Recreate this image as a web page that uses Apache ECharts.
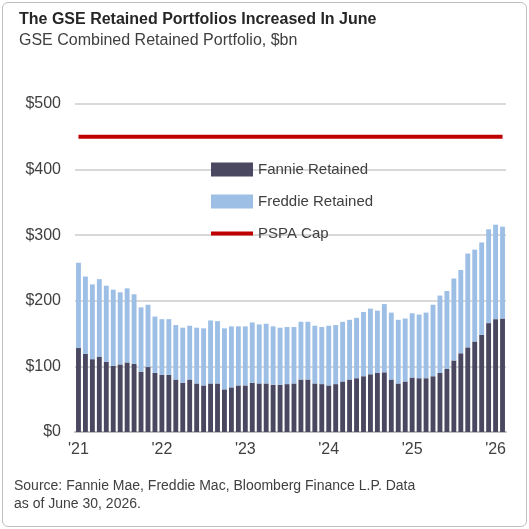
<!DOCTYPE html>
<html>
<head>
<meta charset="utf-8">
<script src="https://cdn.jsdelivr.net/npm/echarts@6/dist/echarts.min.js"></script>
<style>
html,body{margin:0;padding:0;background:#fff;}
#wrap{position:absolute;left:2px;top:2px;width:523px;height:523px;border:1px solid #bfbfbf;border-radius:6px;}
#chart{width:523px;height:523px;}
</style>
</head>
<body>
<div id="wrap"><div id="chart"></div></div>
<script>
// monthly, Jan 2021 .. Feb 2026
var totals = [258,237,225,233,223,217,213,219,210,190,194,176,
              172,172,163,159,162,159,158,170,169,158,161,161,
              161,167,164,165,161,159,160,160,168,168,162,160,
              162,163,168,171,174,183,188,185,195,182,171,173,
              181,179,182,194,208,215,234,247,272,278,289,309,
              316,313];
var fannie = [128,119,111,115,107,101,103,106,104,92,99,90,
              87,87,80,75,80,74,71,74,74,65,68,71,
              71,75,74,74,72,72,73,74,80,80,74,73,
              71,73,77,80,82,85,88,90,91,80,74,77,
              83,82,82,85,90,96,109,120,129,138,148,166,
              172,173];
var freddie = totals.map(function(t, i) { return t - fannie[i]; });
var pspaCap = totals.map(function() { return 450; });
var months = totals.map(function(t, i) {
    var y = 21 + Math.floor(i / 12), m = i % 12;
    return m === 0 ? "'" + y : (m + 1) + '/' + y;
});

var myChart = echarts.init(document.getElementById('chart'));
var option = {
    animation: false,
    textStyle: { fontFamily: 'Liberation Sans, Arial, sans-serif' },
    title: {
        text: 'The GSE Retained Portfolios Increased In June',
        subtext: 'GSE Combined Retained Portfolio, $bn',
        left: 11, top: 4, itemGap: 5,
        textStyle: { fontSize: 16, fontWeight: 'bold', color: '#262626' },
        subtextStyle: { fontSize: 16, color: '#404040' }
    },
    graphic: [{
        type: 'text', left: 11, top: 474,
        style: {
            text: 'Source: Fannie Mae, Freddie Mac, Bloomberg Finance L.P. Data\nas of June 30, 2026.',
            fontSize: 14, fill: '#404040', lineHeight: 18,
            fontFamily: 'Liberation Sans, Arial, sans-serif'
        }
    }],
    legend: {
        orient: 'vertical', left: 203, top: 154, itemGap: 17,
        itemWidth: 42, itemHeight: 14,
        textStyle: { fontSize: 15, color: '#404040' },
        data: [
            { name: 'Fannie Retained', icon: 'rect' },
            { name: 'Freddie Retained', icon: 'rect' },
            { name: 'PSPA Cap', icon: 'path://M0,5 L42,5 L42,9 L0,9 Z' }
        ]
    },
    grid: { left: 72, right: 20, top: 101, bottom: 94 },
    xAxis: {
        type: 'category', data: months,
        axisTick: { show: false },
        axisLine: { lineStyle: { color: '#bfbfbf', width: 2 } },
        axisLabel: {
            interval: function(i) { return i % 12 === 0; },
            fontSize: 16, color: '#404040', margin: 10
        }
    },
    yAxis: {
        type: 'value', min: 0, max: 500, interval: 100,
        axisLabel: { formatter: '${value}', fontSize: 16, color: '#404040', margin: 14 },
        splitLine: { lineStyle: { color: '#d9d9d9', width: 2 } }
    },
    series: [{
        name: 'Fannie Retained', type: 'bar', stack: 'gse',
        barCategoryGap: '30%',
        itemStyle: { color: '#4a4760' },
        data: fannie
    }, {
        name: 'Freddie Retained', type: 'bar', stack: 'gse',
        itemStyle: { color: '#9dbfe6' },
        data: freddie
    }, {
        name: 'PSPA Cap', type: 'line', showSymbol: false,
        lineStyle: { color: '#c00000', width: 4 },
        itemStyle: { color: '#c00000' },
        data: pspaCap
    }]
};
myChart.setOption(option);
</script>
</body>
</html>
